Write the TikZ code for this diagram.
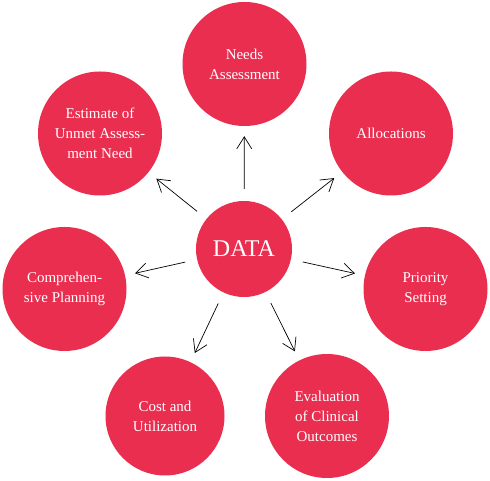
\documentclass[tikz,border=0pt]{standalone}
\usepackage{fontspec}
\setmainfont{Liberation Serif}
\usetikzlibrary{arrows.meta}
\definecolor{petal}{RGB}{234,46,80}
\begin{document}
\begin{tikzpicture}[x=1pt,y=1pt,
  petalnode/.style={circle,fill=petal,draw=none,minimum size=124pt,inner sep=0pt,
    text=white,align=center,font=\fontsize{15}{20}\selectfont},
  hubnode/.style={circle,fill=petal,draw=none,minimum size=96pt,inner sep=0pt,
    text=white,font=\fontsize{24}{28}\selectfont},
  spoke/.style={line width=0.7pt,-{Straight Barb[length=12pt,width=15pt,line width=0.7pt]},
    shorten <=12pt,shorten >=10pt}]
\useasboundingbox (0,0) rectangle (490,481);
% hub
\node[hubnode] (data) at (244,232) {DATA};
% surrounding topics
\node[petalnode] (needs) at (244.5,417) {Needs\\Assessment};
\node[petalnode] (alloc) at (391,347.5) {Allocations};
\node[petalnode] (prio) at (425.5,192) {Priority\\Setting};
\node[petalnode] (eval) at (327,65) {Evaluation\\of Clinical\\Outcomes};
\node[petalnode,minimum size=119pt] (cost) at (165,65) {Cost and\\Utilization};
\node[petalnode] (comp) at (64.5,192) {Comprehen-\\sive Planning};
\node[petalnode] (est) at (100,347.5) {Estimate of\\Unmet Assess-\\ment Need};
% spokes
\foreach \t in {needs,alloc,prio,eval,cost,comp,est}
  \draw[spoke] (data) -- (\t);
\end{tikzpicture}
\end{document}
